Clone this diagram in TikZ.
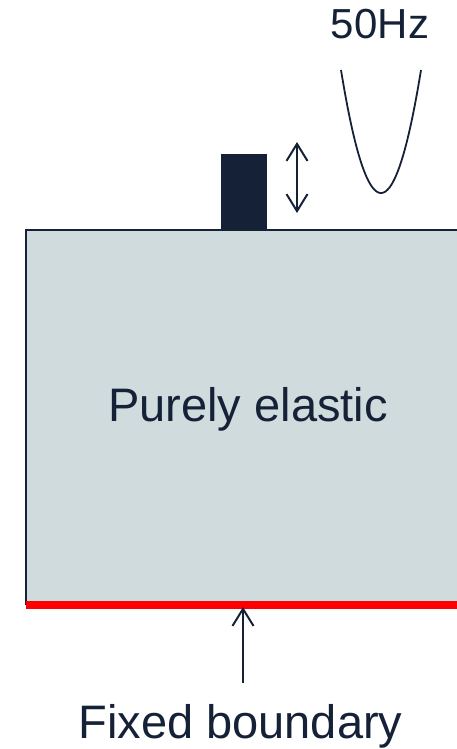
\documentclass[tikz,border=0pt]{standalone}
\usepackage{fontspec}
\setmainfont{Liberation Sans}
\usetikzlibrary{arrows.meta}
\definecolor{navy}{RGB}{21,33,55}
\definecolor{boxfill}{RGB}{207,219,221}
\definecolor{fixred}{RGB}{255,0,0}
\tikzset{
  lbl/.style={inner sep=0pt, text=navy, anchor=base},
  bigtxt/.style={font=\fontsize{47}{56}\selectfont},
  midtxt/.style={font=\fontsize{42}{50}\selectfont},
  barb/.style={navy, line width=2pt, arrows={-Straight Barb[length=17pt,width=21pt,line width=2pt]}},
  dbarb/.style={navy, line width=2pt, arrows={Straight Barb[length=17pt,width=21pt,line width=2pt]-Straight Barb[length=17pt,width=21pt,line width=2pt]}}
}
\begin{document}
\begin{tikzpicture}[x=1pt,y=-1pt]
\useasboundingbox (0,0) rectangle (456,749);
% elastic body
\fill[boxfill] (26,230) rectangle (460,605);
\draw[navy, line width=2.2pt] (26,605) -- (26,230) -- (460,230);
% fixed boundary
\draw[fixred, line width=7.5pt] (26,605) -- (460,605);
% actuator
\fill[navy] (221,154) rectangle (267,230);
% coordinates
\coordinate (dtop) at (297,142);
\coordinate (dbot) at (297,213);
\coordinate (atail) at (243,683);
\coordinate (ahead) at (243,607);
\draw[dbarb] (dtop) -- (dbot);
\draw[barb] (atail) -- (ahead);
% 50 Hz curve
\draw[navy, line width=1.8pt] plot[domain=-40:40, samples=80] ({381+\x},{193-123*(\x/40)^2});
% labels
\node[lbl, bigtxt] (elastic) at (248,421) {Purely elastic};
\node[lbl, bigtxt] (fixed) at (240.5,738) {Fixed boundary};
\node[lbl, midtxt] (freq) at (380,39) {50Hz};
\end{tikzpicture}
\end{document}
